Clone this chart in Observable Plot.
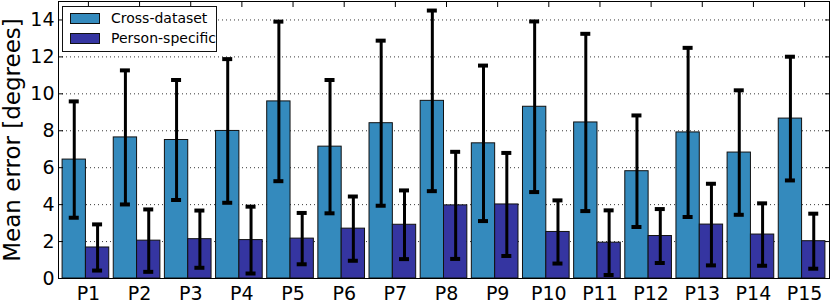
<!DOCTYPE html>
<html>
<head>
<meta charset="utf-8">
<script src="https://cdn.jsdelivr.net/npm/d3@7"></script>
<script src="https://cdn.jsdelivr.net/npm/@observablehq/plot@0.6"></script>
<style>
  body { margin: 0; background: #fff; }
  #wrap { position: relative; width: 831px; height: 304px; font-family: "DejaVu Sans", sans-serif; }
  #legend { position: absolute; left: 62px; top: 6px; width: 155px; height: 46px; border: 1px solid #111; background: #fff; box-sizing: border-box; }
  .row { position: absolute; left: 7px; display: flex; align-items: center; font-size: 14px; color: #000; font-family: "DejaVu Sans", sans-serif; }
  .sw { width: 28px; height: 9px; border: 1px solid #111; margin-right: 11px; }
</style>
</head>
<body>
<div id="wrap"></div>
<script>
const participants = ["P1","P2","P3","P4","P5","P6","P7","P8","P9","P10","P11","P12","P13","P14","P15"];
const seriesNames = ["Cross-dataset", "Person-specific"];
const crossMean = [6.44, 7.64, 7.50, 7.99, 9.59, 7.14, 8.41, 9.62, 7.32, 9.30, 8.45, 5.81, 7.91, 6.82, 8.66];
const crossSd   = [3.15, 3.63, 3.25, 3.89, 4.32, 3.61, 4.47, 4.89, 4.21, 4.62, 4.80, 3.02, 4.58, 3.37, 3.35];
const personMean = [1.68, 2.05, 2.13, 2.08, 2.16, 2.70, 2.91, 3.96, 4.01, 2.52, 1.94, 2.30, 2.92, 2.38, 2.02];
const personSd   = [1.25, 1.69, 1.55, 1.81, 1.39, 1.74, 1.86, 2.90, 2.79, 1.71, 1.75, 1.46, 2.21, 1.69, 1.49];
const yTicks = [0, 2, 4, 6, 8, 10, 12, 14];
const colors = ["#348abd", "#3535a1"];

const cross = participants.map((p, i) => ({p, mean: crossMean[i], lo: crossMean[i] - crossSd[i], hi: crossMean[i] + crossSd[i]}));
const person = participants.map((p, i) => ({p, mean: personMean[i], lo: personMean[i] - personSd[i], hi: personMean[i] + personSd[i]}));

const W = 831, H = 304, ML = 58, MR = 2, MT = 1, MB = 26;
const pInner = 0.088, pOuter = 0.08;
const step = (W - ML - MR) / (participants.length - pInner + 2 * pOuter);
const bw = step * (1 - pInner);
const half = bw / 2, q = bw / 4, cap = 10;
const font = "DejaVu Sans";

const chart = Plot.plot({
  width: W, height: H,
  marginLeft: ML, marginRight: MR, marginTop: MT, marginBottom: MB,
  style: {fontFamily: font, background: "#fff"},
  x: {domain: participants, paddingInner: pInner, paddingOuter: pOuter, round: false, axis: null},
  y: {domain: [0, 15], axis: null},
  marks: [
    Plot.gridY(yTicks.slice(1), {stroke: "#222", strokeOpacity: 0.9, strokeDasharray: "1,3", strokeWidth: 1}),
    Plot.barY(cross, {x: "p", y: "mean", fill: colors[0], stroke: "#111", strokeWidth: 1, insetRight: half}),
    Plot.barY(person, {x: "p", y: "mean", fill: colors[1], stroke: "#111", strokeWidth: 1, insetLeft: half}),
    Plot.ruleX(cross, {x: "p", y1: "lo", y2: "hi", dx: -q, stroke: "#000", strokeWidth: 3}),
    Plot.ruleX(person, {x: "p", y1: "lo", y2: "hi", dx: q, stroke: "#000", strokeWidth: 3}),
    Plot.tickY(cross, {x: "p", y: "hi", insetLeft: q - cap / 2, insetRight: bw - q - cap / 2, stroke: "#000", strokeWidth: 4}),
    Plot.tickY(cross, {x: "p", y: "lo", insetLeft: q - cap / 2, insetRight: bw - q - cap / 2, stroke: "#000", strokeWidth: 4}),
    Plot.tickY(person, {x: "p", y: "hi", insetLeft: 3 * q - cap / 2, insetRight: q - cap / 2, stroke: "#000", strokeWidth: 4}),
    Plot.tickY(person, {x: "p", y: "lo", insetLeft: 3 * q - cap / 2, insetRight: q - cap / 2, stroke: "#000", strokeWidth: 4}),
    Plot.frame({stroke: "#000", strokeWidth: 1}),
    Plot.axisY(yTicks, {anchor: "left", tickSize: 0, tickPadding: 4, fontSize: 19, label: null}),
    Plot.axisY([], {anchor: "left", tickSize: 0, fontSize: 23, label: "Mean error [degrees]", labelAnchor: "center", labelOffset: 55, labelArrow: "none"}),
    Plot.axisY(yTicks.slice(1), {anchor: "left", tickSize: -5, text: null, label: null, stroke: "#000"}),
    Plot.axisY(yTicks.slice(1), {anchor: "right", tickSize: -5, text: null, label: null, stroke: "#000"}),
    Plot.axisX({anchor: "bottom", tickSize: 0, tickPadding: 8, fontSize: 19, dx: 2.5, label: null}),
    Plot.axisX({anchor: "top", tickSize: -5, text: null, label: null, dx: 2.5, stroke: "#000"})
  ]
});
const wrap = document.getElementById("wrap");
wrap.appendChild(chart);

const legend = document.createElement("div");
legend.id = "legend";
seriesNames.forEach((name, i) => {
  const row = document.createElement("div");
  row.className = "row";
  row.style.top = (i === 0 ? 3 : 23) + "px";
  const sw = document.createElement("div");
  sw.className = "sw";
  sw.style.background = colors[i];
  const t = document.createElement("span");
  t.textContent = name;
  row.appendChild(sw); row.appendChild(t);
  legend.appendChild(row);
});
wrap.appendChild(legend);
</script>
</body>
</html>
